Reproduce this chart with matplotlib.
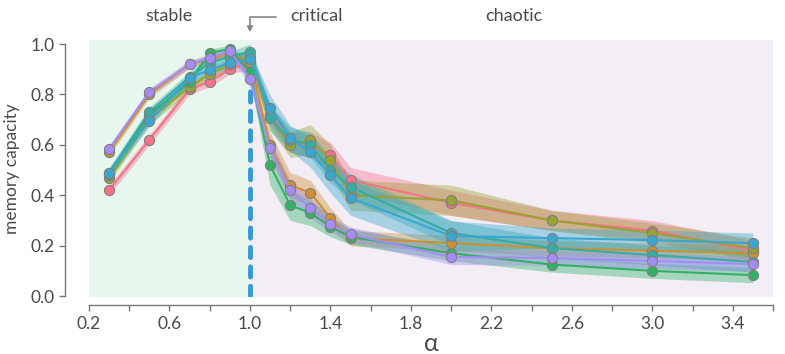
import matplotlib
matplotlib.use("Agg")
import matplotlib.pyplot as plt
import numpy as np

plt.rcParams['font.family'] = ['Lato', 'DejaVu Sans']

alpha_vals = [0.3, 0.5, 0.7, 0.8, 0.9, 1.0, 1.1, 1.2, 1.3, 1.4, 1.5, 2.0, 2.5, 3.0, 3.5]

pink   = [0.42, 0.62, 0.82, 0.85, 0.90, 0.93, 0.72, 0.61, 0.60, 0.56, 0.46, 0.37, 0.30, 0.26, 0.18]
orange = [0.57, 0.80, 0.92, 0.94, 0.96, 0.93, 0.60, 0.44, 0.41, 0.31, 0.23, 0.21, 0.19, 0.18, 0.17]
olive  = [0.47, 0.70, 0.83, 0.88, 0.92, 0.95, 0.71, 0.60, 0.62, 0.54, 0.40, 0.38, 0.30, 0.25, 0.19]
green  = [0.48, 0.72, 0.85, 0.965, 0.98, 0.89, 0.52, 0.36, 0.33, 0.275, 0.235, 0.17, 0.125, 0.10, 0.083]
teal   = [0.49, 0.73, 0.87, 0.925, 0.95, 0.97, 0.705, 0.62, 0.60, 0.50, 0.433, 0.25, 0.19, 0.163, 0.135]
blue   = [0.488, 0.694, 0.865, 0.897, 0.925, 0.94, 0.748, 0.627, 0.571, 0.48, 0.39, 0.238, 0.23, 0.222, 0.21]
purple = [0.583, 0.81, 0.92, 0.945, 0.972, 0.862, 0.587, 0.42, 0.35, 0.285, 0.245, 0.155, 0.151, 0.139, 0.127]

# half-widths of the shaded confidence bands
pink_ci   = [0.02, 0.02, 0.02, 0.02, 0.02, 0.03, 0.04, 0.04, 0.05, 0.05, 0.05, 0.05, 0.04, 0.04, 0.04]
orange_ci = [0.015, 0.015, 0.015, 0.015, 0.015, 0.03, 0.05, 0.05, 0.05, 0.04, 0.03, 0.03, 0.03, 0.03, 0.03]
olive_ci  = [0.02, 0.02, 0.02, 0.02, 0.02, 0.03, 0.05, 0.05, 0.06, 0.06, 0.06, 0.06, 0.04, 0.04, 0.04]
green_ci  = [0.02, 0.02, 0.02, 0.015, 0.015, 0.03, 0.08, 0.06, 0.05, 0.04, 0.03, 0.03, 0.03, 0.03, 0.03]
teal_ci   = [0.02, 0.02, 0.02, 0.02, 0.02, 0.03, 0.05, 0.05, 0.05, 0.05, 0.05, 0.05, 0.04, 0.04, 0.04]
blue_ci   = [0.02, 0.02, 0.02, 0.02, 0.02, 0.03, 0.05, 0.05, 0.06, 0.07, 0.07, 0.06, 0.04, 0.04, 0.04]
purple_ci = [0.015, 0.015, 0.015, 0.015, 0.015, 0.03, 0.04, 0.04, 0.04, 0.03, 0.03, 0.03, 0.03, 0.03, 0.03]

series = [pink, orange, olive, green, teal, blue, purple]
cis = [pink_ci, orange_ci, olive_ci, green_ci, teal_ci, blue_ci, purple_ci]
colors = ['#f77189', '#ce9032', '#97a431', '#32b166', '#36ada4', '#39a7d0', '#a48cf4']

xticks = [0.2, 0.4, 0.6, 0.8, 1.0, 1.2, 1.4, 1.6, 1.8, 2.0, 2.2, 2.4, 2.6, 2.8, 3.0, 3.2, 3.4, 3.6]
xtick_labels = ['0.2', '', '0.6', '', '1.0', '', '1.4', '', '1.8', '', '2.2', '', '2.6', '', '3.0', '', '3.4', '']
yticks = [0.0, 0.2, 0.4, 0.6, 0.8, 1.0]

fig = plt.figure(figsize=(7.85, 3.54), dpi=100)
ax = fig.add_axes([89/785, 1 - 296.8/354, (773 - 89)/785, (296.8 - 40)/354])

ax.set_xlim(0.2, 3.6)
ax.set_ylim(-0.003, 1.016)

ax.axvspan(0.2, 1.0, color='#e8f7ee', lw=0, zorder=0)
ax.axvspan(1.0, 3.6, color='#f3edf6', lw=0, zorder=0)

ax.plot([1.0, 1.0], [0.0, 1.0], color='#3498db', lw=3.5, dashes=(2.1, 1.9),
        dash_capstyle='round', zorder=1)

x = np.array(alpha_vals)
for ys, ci, c in zip(series, cis, colors):
    ys = np.array(ys)
    ci = np.array(ci)
    ax.fill_between(x, ys - ci, ys + ci, color=c, alpha=0.4, lw=0, zorder=2)
for ys, c in zip(series, colors):
    ax.plot(x, ys, color=c, lw=1.5, marker='o', markersize=7.3,
            markeredgecolor='#808080', markeredgewidth=0.8, zorder=3)

for side in ['top', 'right']:
    ax.spines[side].set_visible(False)
ax.spines['left'].set_position(('outward', 17))
ax.spines['bottom'].set_position(('outward', 6))
ax.spines['left'].set_bounds(0.0, 1.0)
ax.spines['bottom'].set_bounds(0.2, 3.6)
for side in ['left', 'bottom']:
    ax.spines[side].set_color('#777777')
    ax.spines[side].set_linewidth(1.0)

ax.set_xticks(xticks)
ax.set_xticklabels(xtick_labels)
ax.set_yticks(yticks)
ax.set_yticklabels([f'{v:.1f}' for v in yticks])
ax.tick_params(axis='both', colors='#777777', labelcolor='#4a4a4a', labelsize=12.5,
               length=4, width=1.0)

ax.set_xlabel('α', fontsize=18, color='#4a4a4a', labelpad=0)
ax.set_ylabel('memory capacity', fontsize=12.5, color='#4a4a4a', labelpad=8)

trans = ax.get_xaxis_transform()
ax.text(0.6, 1.095, 'stable', transform=trans, ha='center', va='center',
        fontsize=13, color='#4a4a4a')
ax.text(2.31, 1.095, 'chaotic', transform=trans, ha='center', va='center',
        fontsize=13, color='#4a4a4a')
ax.annotate('critical', xy=(1.0, 1.03), xycoords=trans,
            xytext=(1.33, 1.095), textcoords=trans, ha='center', va='center',
            fontsize=13, color='#4a4a4a',
            arrowprops=dict(arrowstyle='-|>', color='#888888', lw=1.2,
                            connectionstyle='angle,angleA=0,angleB=90,rad=0',
                            relpos=(0, 0.4), shrinkA=8, shrinkB=0,
                            mutation_scale=8))

fig.savefig('out.png', dpi=100)
